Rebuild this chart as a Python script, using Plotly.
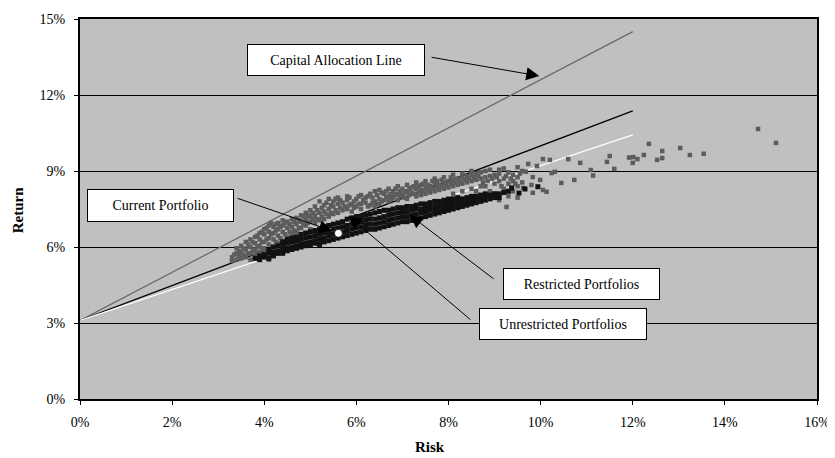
import plotly.graph_objects as go

# ---------------- data (percent) ----------------
x_ticks = [0, 2, 4, 6, 8, 10, 12, 14, 16]
x_tick_labels = ["0%", "2%", "4%", "6%", "8%", "10%", "12%", "14%", "16%"]
y_ticks = [0, 3, 6, 9, 12, 15]
y_tick_labels = ["0%", "3%", "6%", "9%", "12%", "15%"]

risk_free = 3.1
line_end_risk = 12.0
cal_end_return = 14.5          # Capital Allocation Line
unrestricted_line_end = 11.37  # black line
restricted_line_end = 10.43    # white line

current_portfolio = (5.61, 6.54)

unrestricted = [
    (3.3,5.45),(3.3,5.6),
    (3.4,5.5),(3.4,5.75),(3.4,5.95),
    (3.5,5.55),(3.5,5.8),(3.5,6.05),
    (3.6,5.6),(3.6,5.9),(3.6,6.2),
    (3.7,5.5),(3.7,5.75),(3.7,6.0),(3.7,6.3),
    (3.8,5.65),(3.8,5.9),(3.8,6.15),(3.8,6.4),
    (3.9,5.55),(3.9,5.8),(3.9,6.05),(3.9,6.3),(3.9,6.55),
    (4.0,5.7),(4.0,5.95),(4.0,6.2),(4.0,6.5),(4.0,6.7),
    (4.1,5.5),(4.1,5.85),(4.1,6.1),(4.1,6.35),(4.1,6.6),(4.1,6.85),
    (4.2,5.65),(4.2,6.0),(4.2,6.3),(4.2,6.55),(4.2,6.8),
    (4.3,5.75),(4.3,6.15),(4.3,6.45),(4.3,6.7),(4.3,6.95),
    (4.4,6.25),(4.4,6.6),(4.4,6.85),(4.4,7.05),
    (4.5,6.4),(4.5,6.75),(4.5,7.0),
    (4.6,6.5),(4.6,6.8),(4.6,7.1),
    (4.7,6.6),(4.7,6.9),(4.7,7.15),
    (4.8,6.45),(4.8,6.75),(4.8,7.0),(4.8,7.25),
    (4.9,6.55),(4.9,6.85),(4.9,7.1),(4.9,7.35),
    (5.0,6.7),(5.0,7.0),(5.0,7.2),(5.0,7.45),
    (5.1,6.95),(5.1,7.25),(5.1,7.6),
    (5.2,7.05),(5.2,7.35),(5.2,7.8),
    (5.3,7.1),(5.3,7.4),(5.3,7.65),
    (5.4,7.2),(5.4,7.5),(5.4,7.9),
    (5.5,7.3),(5.5,7.6),(5.5,7.8),
    (5.6,7.35),(5.6,7.7),(5.6,7.95),
    (5.7,7.45),(5.7,7.75),
    (5.8,7.5),(5.8,7.85),(5.8,8.0),
    (5.9,7.4),(5.9,7.7),
    (6.0,7.6),(6.0,7.9),
    (6.1,7.5),(6.1,7.7),(6.1,8.05),
    (6.2,7.75),(6.2,7.95),
    (6.3,7.65),(6.3,8.1),
    (6.4,7.6),(6.4,7.8),(6.4,8.2),
    (6.5,7.7),(6.5,7.9),(6.5,8.25),
    (6.6,7.85),(6.6,8.1),
    (6.7,7.8),(6.7,8.0),(6.7,8.3),
    (6.8,7.95),(6.8,8.2),
    (6.9,7.85),(6.9,8.1),(6.9,8.4),
    (7.0,8.05),(7.0,8.3),
    (7.1,7.9),(7.1,8.2),(7.1,8.45),
    (7.2,8.15),(7.2,8.35),
    (7.3,8.0),(7.3,8.3),(7.3,8.55),
    (7.4,8.05),(7.4,8.25),(7.4,8.45),
    (7.5,8.1),(7.5,8.35),(7.5,8.6),
    (7.6,8.15),(7.6,8.4),
    (7.7,8.2),(7.7,8.5),(7.7,8.7),
    (7.8,8.25),(7.8,8.45),
    (7.9,8.3),(7.9,8.55),(7.9,8.75),
    (8.0,8.35),(8.0,8.6),
    (8.1,8.1),(8.1,8.4),(8.1,8.65),(8.1,8.85),
    (8.2,8.45),(8.2,8.7),
    (8.3,8.2),(8.3,8.5),(8.3,8.75),(8.3,8.9),
    (8.4,8.55),(8.4,8.8),
    (8.5,8.3),(8.5,8.6),(8.5,8.85),(8.5,9.0),
    (8.6,8.2),(8.6,8.65),(8.6,8.9),
    (8.7,8.4),(8.7,8.7),(8.7,8.95),
    (8.8,8.4),(8.8,8.75),(8.8,9.0),
    (8.9,8.2),(8.9,8.8),(8.9,9.05),
    (9.0,8.1),(9.0,8.5),(9.0,8.85),
    (9.1,7.85),(9.1,8.6),(9.1,8.9),(9.1,9.05),
    (9.2,8.3),(9.2,8.7),(9.2,9.1),
    (9.26,7.58),(9.3,8.0),(9.3,8.5),(9.3,8.95),
    (9.4,8.2),(9.4,8.6),(9.4,8.85),
    (9.5,7.95),(9.5,8.4),(9.5,8.75),(9.5,9.15),
    (9.62,8.33),(9.6,8.55),(9.6,9.0),
    (9.68,8.97),(9.73,9.28),
    (9.8,8.45),(9.83,8.76),(9.83,8.14),
    (9.92,9.2),(9.99,8.65),
    (10.05,9.47),(10.05,8.25),(10.13,8.18),
    (10.2,9.44),(10.24,8.92),(10.31,8.97),
    (10.45,8.53),(10.6,9.47),(10.73,8.65),
    (10.86,9.32),(11.09,9.04),(11.14,8.82),
    (11.44,9.36),(11.5,9.59),(11.6,9.08),
    (11.92,9.53),(12.0,9.32),(12.01,9.55),(12.1,9.47),
    (12.24,9.63),(12.35,10.07),(12.53,9.44),(12.64,9.79),(12.64,9.51),
    (13.03,9.91),(13.24,9.63),(13.54,9.68),(14.72,10.66),(15.11,10.11),
]

unrestricted_between = [
    (3.35,5.7),(3.45,5.65),(3.45,5.85),(3.55,5.7),(3.55,5.95),(3.65,5.75),
    (3.65,6.1),(3.75,5.85),(3.75,6.2),(3.85,5.75),(3.85,6.0),(3.85,6.45),
    (3.95,5.9),(3.95,6.2),(3.95,6.6),(4.05,5.8),(4.05,6.3),(4.05,6.75),
    (4.15,6.0),(4.15,6.5),(4.15,6.95),(4.25,6.2),(4.25,6.65),(4.25,6.9),
    (4.35,6.35),(4.35,6.8),(4.45,6.5),(4.45,6.95),(4.55,6.6),(4.55,6.9),
    (4.65,6.65),(4.65,7.0),(4.75,6.75),(4.75,7.05),(4.85,6.9),(4.85,7.2),
    (4.95,6.95),(4.95,7.25),(5.05,7.1),(5.05,7.35),(5.15,7.1),(5.15,7.45),
    (5.25,7.2),(5.25,7.55),(5.35,7.3),(5.35,7.75),(5.45,7.35),(5.45,7.65),
    (5.55,7.45),(5.55,7.9),(5.65,7.55),(5.65,7.85),(5.75,7.6),(5.85,7.65),
    (5.85,7.95),(5.95,7.55),(5.95,7.8),(6.05,7.7),(6.05,8.0),(6.15,7.85),
    (6.25,7.6),(6.25,8.0),(6.35,7.75),(6.35,7.95),(6.45,7.7),(6.45,8.05),
    (6.55,7.8),(6.55,8.15),(6.65,7.95),(6.65,8.2),(6.75,7.9),(6.75,8.1),
    (6.85,8.05),(6.85,8.3),(6.95,8.0),(6.95,8.2),(7.05,7.95),(7.05,8.15),
    (7.15,8.05),(7.15,8.3),(7.25,8.1),(7.25,8.4),(7.35,8.15),(7.35,8.4),
    (7.45,8.2),(7.45,8.5),(7.55,8.25),(7.55,8.45),(7.65,8.3),(7.65,8.6),
    (7.75,8.35),(7.75,8.6),(7.85,8.4),(7.85,8.65),(7.95,8.45),(8.05,8.5),
    (8.05,8.75),(8.15,8.55),(8.25,8.6),(8.35,8.65),(8.45,8.7),(8.55,8.75),
    (8.65,8.8),(8.75,8.55),(8.85,8.6),(8.95,8.7),(9.05,8.75),(9.15,8.4),
    (9.25,8.8),(9.35,8.7),(9.45,8.5),(9.55,8.9),
]

restricted = [
    (3.8,5.55),
    (3.9,5.5),(3.9,5.65),
    (4.0,5.6),(4.0,5.7),
    (4.1,5.55),(4.1,5.75),(4.1,5.9),
    (4.2,5.65),(4.2,5.8),(4.2,6.0),
    (4.3,5.75),(4.3,5.85),(4.3,6.05),
    (4.4,5.75),(4.4,5.9),(4.4,6.1),(4.4,6.2),
    (4.5,5.85),(4.5,5.95),(4.5,6.15),(4.5,6.3),
    (4.6,5.9),(4.6,6.0),(4.6,6.2),(4.6,6.35),
    (4.7,5.95),(4.7,6.05),(4.7,6.25),(4.7,6.4),
    (4.8,6.0),(4.8,6.1),(4.8,6.3),(4.8,6.5),
    (4.9,6.05),(4.9,6.15),(4.9,6.35),(4.9,6.55),
    (5.0,6.1),(5.0,6.2),(5.0,6.4),(5.0,6.6),
    (5.1,6.15),(5.1,6.25),(5.1,6.45),(5.1,6.65),
    (5.2,6.1),(5.2,6.3),(5.2,6.5),(5.2,6.7),
    (5.3,6.2),(5.3,6.35),(5.3,6.55),(5.3,6.8),
    (5.4,6.25),(5.4,6.45),(5.4,6.6),(5.4,6.85),
    (5.5,6.3),(5.5,6.5),(5.5,6.7),(5.5,6.9),
    (5.6,6.35),(5.6,6.55),(5.6,6.75),(5.6,6.95),
    (5.7,6.4),(5.7,6.6),(5.7,6.8),(5.7,7.0),
    (5.8,6.45),(5.8,6.65),(5.8,6.85),(5.8,7.1),
    (5.9,6.5),(5.9,6.7),(5.9,6.9),(5.9,7.15),
    (6.0,6.55),(6.0,6.75),(6.0,6.95),(6.0,7.2),
    (6.1,6.6),(6.1,6.8),(6.1,7.0),(6.1,7.2),
    (6.2,6.65),(6.2,6.85),(6.2,7.05),(6.2,7.25),
    (6.3,6.7),(6.3,6.9),(6.3,7.1),(6.3,7.3),
    (6.4,6.7),(6.4,6.9),(6.4,7.1),(6.4,7.35),
    (6.5,6.75),(6.5,6.95),(6.5,7.15),(6.5,7.4),
    (6.6,6.8),(6.6,7.0),(6.6,7.2),(6.6,7.45),
    (6.7,6.85),(6.7,7.05),(6.7,7.25),(6.7,7.45),
    (6.8,6.9),(6.8,7.1),(6.8,7.3),(6.8,7.5),
    (6.9,6.95),(6.9,7.15),(6.9,7.35),(6.9,7.55),
    (7.0,7.0),(7.0,7.2),(7.0,7.4),(7.0,7.55),
    (7.1,7.0),(7.1,7.2),(7.1,7.4),(7.1,7.6),
    (7.2,7.05),(7.2,7.25),(7.2,7.45),(7.2,7.6),
    (7.3,7.1),(7.3,7.3),(7.3,7.5),(7.3,7.65),
    (7.4,7.15),(7.4,7.35),(7.4,7.5),(7.4,7.7),
    (7.5,7.2),(7.5,7.4),(7.5,7.55),(7.5,7.7),
    (7.6,7.25),(7.6,7.45),(7.6,7.6),(7.6,7.75),
    (7.7,7.3),(7.7,7.45),(7.7,7.6),(7.7,7.8),
    (7.8,7.35),(7.8,7.5),(7.8,7.65),(7.8,7.8),
    (7.9,7.4),(7.9,7.55),(7.9,7.7),(7.9,7.85),
    (8.0,7.45),(8.0,7.6),(8.0,7.75),(8.0,7.9),
    (8.1,7.5),(8.1,7.65),(8.1,7.8),(8.1,7.9),
    (8.2,7.55),(8.2,7.7),(8.2,7.85),(8.2,7.95),
    (8.3,7.6),(8.3,7.75),(8.3,7.9),
    (8.4,7.65),(8.4,7.8),(8.4,7.95),
    (8.5,7.7),(8.5,7.85),(8.5,8.0),
    (8.6,7.75),(8.6,7.9),(8.6,8.0),
    (8.7,7.8),(8.7,7.95),(8.7,8.05),
    (8.8,7.85),(8.8,8.0),(8.8,8.1),
    (8.9,7.9),(8.9,8.05),
    (9.0,7.95),(9.0,8.1),
    (9.1,7.95),(9.1,8.1),
    (9.2,8.15),(9.3,8.2),(9.37,8.33),
    (9.53,8.13),(9.66,8.29),(9.94,8.38),
]

# ---------------- figure ----------------
FONT = "Liberation Serif, Times New Roman, serif"
fig = go.Figure()

fig.add_trace(go.Scatter(
    x=[0, line_end_risk], y=[risk_free, cal_end_return], mode="lines",
    line=dict(color="#6a6a6a", width=1.3), hoverinfo="skip", showlegend=False))
fig.add_trace(go.Scatter(
    x=[0, line_end_risk], y=[risk_free, unrestricted_line_end], mode="lines",
    line=dict(color="#000000", width=1.3), hoverinfo="skip", showlegend=False))
fig.add_trace(go.Scatter(
    x=[0, line_end_risk], y=[risk_free, restricted_line_end], mode="lines",
    line=dict(color="#ffffff", width=1.3), hoverinfo="skip", showlegend=False))

grey_pts = unrestricted + unrestricted_between
fig.add_trace(go.Scatter(
    x=[p[0] for p in grey_pts], y=[p[1] for p in grey_pts], mode="markers",
    marker=dict(symbol="square", size=4.5, color="#5c5c5c", line=dict(width=0)),
    showlegend=False, name="Unrestricted Portfolios"))
fig.add_trace(go.Scatter(
    x=[p[0] for p in restricted], y=[p[1] for p in restricted], mode="markers",
    marker=dict(symbol="square", size=5, color="#111111", line=dict(width=0)),
    showlegend=False, name="Restricted Portfolios"))
fig.add_trace(go.Scatter(
    x=[current_portfolio[0]], y=[current_portfolio[1]], mode="markers",
    marker=dict(symbol="circle", size=8, color="#ffffff", line=dict(width=0.8, color="#000000")),
    showlegend=False, name="Current Portfolio"))

annotations = []
# arrows (tail -> head)
arrows = [
    ((7.60, 13.50), (9.97, 12.75)),
    ((3.39, 7.94), (5.47, 6.64)),
    ((9.01, 4.70), (7.16, 7.26)),
    ((8.51, 3.08), (5.83, 7.22)),
]
for (tx, ty), (hx, hy) in arrows:
    annotations.append(dict(
        x=hx, y=hy, ax=tx, ay=ty, xref="x", yref="y", axref="x", ayref="y",
        text="", showarrow=True, arrowhead=2, arrowsize=2.6, arrowwidth=1,
        arrowcolor="#000000", standoff=0, startstandoff=0))

boxes = [
    ("Capital Allocation Line", 5.56, 13.38, 176, 30),
    ("Current Portfolio", 1.75, 7.64, 145, 31),
    ("Restricted Portfolios", 10.89, 4.54, 155, 30),
    ("Unrestricted Portfolios", 10.49, 2.96, 166, 30),
]
for text, bx, by, w, h in boxes:
    annotations.append(dict(
        x=bx, y=by, xref="x", yref="y", text=text, showarrow=False,
        xanchor="center", yanchor="middle",
        font=dict(family=FONT, size=14, color="#000000"),
        bgcolor="#ffffff", bordercolor="#000000", borderwidth=1, borderpad=0,
        width=w, height=h, align="center", valign="middle"))

annotations.append(dict(
    x=-0.084, y=0.497, xref="paper", yref="paper", text="<b>Return</b>",
    xanchor="center", yanchor="middle",
    textangle=-90, showarrow=False, font=dict(family=FONT, size=15, color="#000000")))
annotations.append(dict(
    x=0.475, y=-0.126, xref="paper", yref="paper", text="<b>Risk</b>",
    xanchor="center", yanchor="middle",
    showarrow=False, font=dict(family=FONT, size=15, color="#000000")))

# the page body adds an 8px margin, so the figure is drawn 8px smaller
fig.update_layout(
    width=827, height=450,
    margin=dict(l=72, r=18, t=11, b=59),
    paper_bgcolor="#ffffff", plot_bgcolor="#c0c0c0",
    font=dict(family=FONT, size=13, color="#000000"),
    annotations=annotations,
    showlegend=False,
)
fig.update_xaxes(
    range=[0, 16], tickvals=x_ticks, ticktext=x_tick_labels,
    showgrid=False, zeroline=False, automargin=False,
    showline=True, linecolor="#000000", linewidth=2, mirror=True,
    ticks="outside", ticklen=4, tickcolor="#000000", tickwidth=1,
    ticklabelstandoff=5, tickfont=dict(family=FONT, size=14))
fig.update_yaxes(
    range=[0, 15], tickvals=y_ticks, ticktext=y_tick_labels,
    showgrid=True, gridcolor="#000000", gridwidth=1, zeroline=False, automargin=False,
    showline=True, linecolor="#000000", linewidth=2, mirror=True,
    ticks="outside", ticklen=4, tickcolor="#000000", tickwidth=1,
    ticklabelstandoff=6, tickfont=dict(family=FONT, size=14))

fig.write_html("out.html")
